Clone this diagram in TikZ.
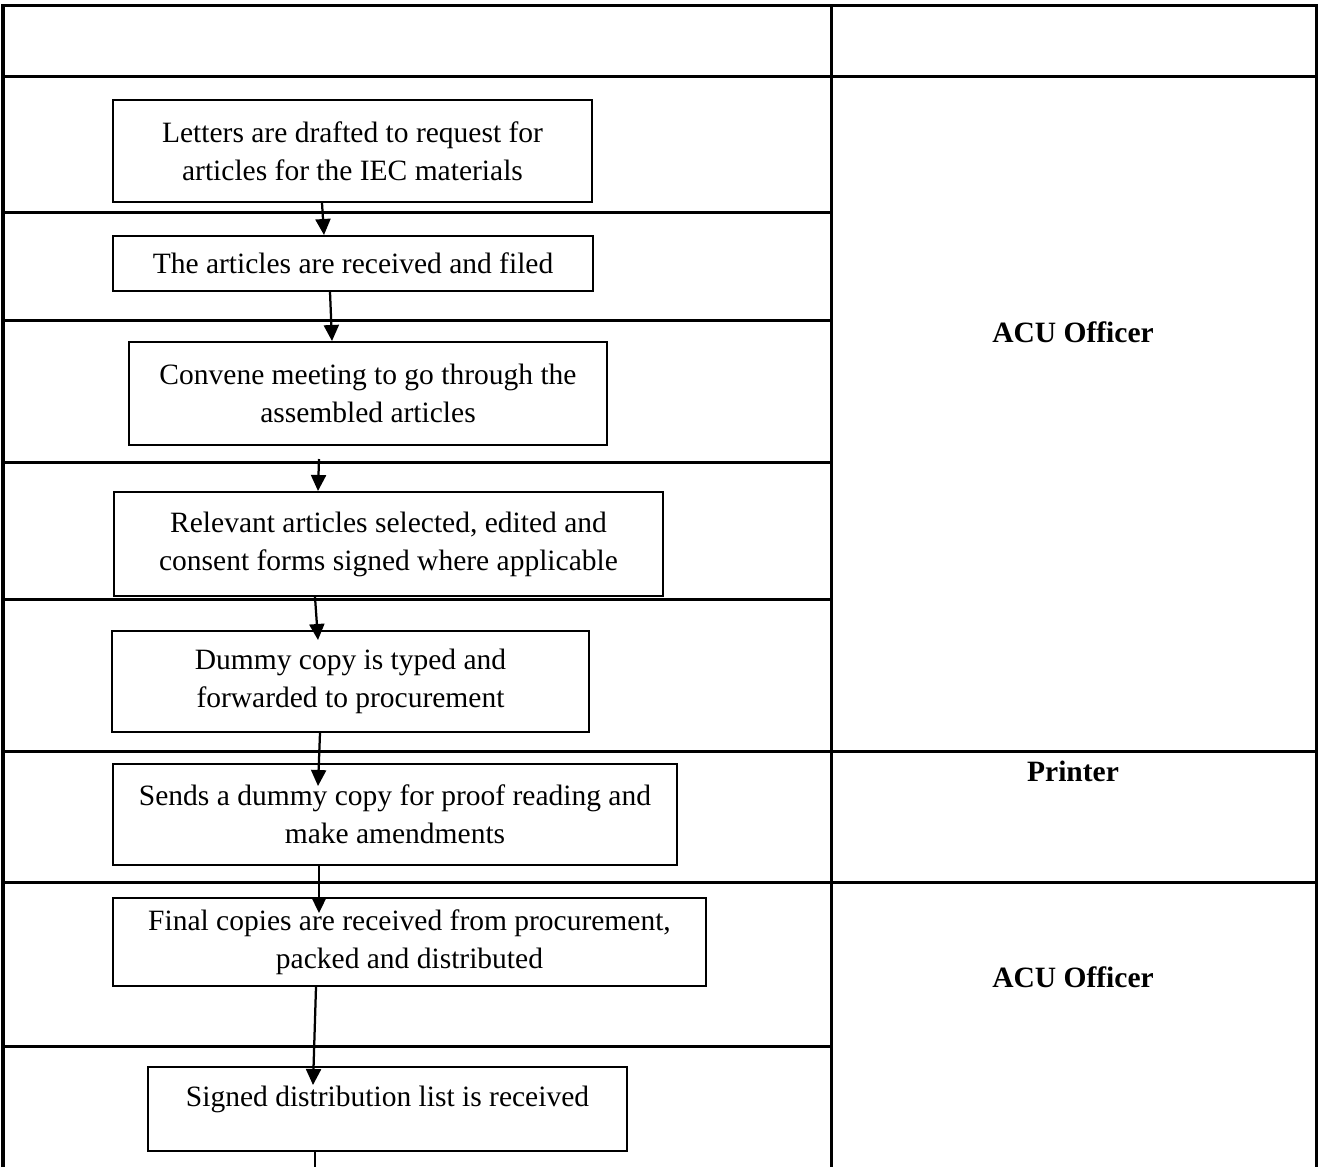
\documentclass[tikz,border=0pt]{standalone}
\usepackage{fontspec}
\setmainfont{Liberation Serif}
\usetikzlibrary{arrows.meta}
\newcommand\stepfont{\fontsize{11.8pt}{15.2pt}\selectfont}
\begin{document}
\begin{tikzpicture}[x=0.4pt, y=-0.4pt,
  rule/.style={line width=1.2pt},
  stepbox/.style={draw, line width=0.8pt, align=center, inner sep=0pt, font=\stepfont},
  sz/.style 2 args={minimum width=#1*0.4pt, minimum height=#2*0.4pt},
  flow/.style={line width=0.9pt, -{Triangle[length=6.4pt, width=6pt]}},
  role/.style={font=\stepfont\bfseries}]
\useasboundingbox (0,0) rectangle (1319,1167);
\fill[white] (0,0) rectangle (1319,1167);

% table frame and lane rules
\draw[rule] (3,1167) -- (3,5) -- (1316,5) -- (1316,1167);
\draw[rule] (831,5) -- (831,1167);
\draw[rule] (3,76) -- (1316,76);
\draw[rule] (3,212) -- (831,212);
\draw[rule] (3,320) -- (831,320);
\draw[rule] (3,462) -- (831,462);
\draw[rule] (3,599) -- (831,599);
\draw[rule] (3,751) -- (1316,751);
\draw[rule] (3,882) -- (1316,882);
\draw[rule] (3,1046) -- (831,1046);

% role labels
\node[role] (r1) at (1073,332) {ACU Officer};
\node[role] (r2) at (1073,771) {Printer};
\node[role] (r3) at (1073,977) {ACU Officer};

% process steps
\node[stepbox, sz={479}{102}] (b1) at (352.5,151) {Letters are drafted to request for\\articles for the IEC materials};
\node[stepbox, sz={480}{55}] (b2) at (353,263.5) {The articles are received and filed};
\node[stepbox, sz={478}{103}] (b3) at (368,393.5) {Convene meeting to go through the\\assembled articles};
\node[stepbox, sz={549}{104}] (b4) at (388.5,544) {Relevant articles selected, edited and\\consent forms signed where applicable};
\node[stepbox, sz={477}{101}] (b5) at (350.5,681.5) {Dummy copy is typed and\\forwarded to procurement};
\node[stepbox, sz={564}{101}] (b6) at (395,814.5) {Sends a dummy copy for proof reading and\\make amendments};
\node[stepbox, sz={593}{88}] (b7) at (409.5,942) {Final copies are received from procurement,\\packed and distributed};
\node[stepbox, sz={479}{84}, text depth=10.5pt] (b8) at (387.5,1109) {Signed distribution list is received};

% connector end points
\coordinate (s34) at (319,459);
\coordinate (e45) at (318,640);
\coordinate (e56) at (318,786);
\coordinate (e67) at (319,913);
\coordinate (e78) at (313,1085);
\coordinate (tail) at (315,1167);

% flow arrows
\draw[flow] (b1.south -| 322,0) -- (b2.north -| 324,0);
\draw[flow] (b2.south -| 330,0) -- (b3.north -| 332,0);
\draw[flow] (s34) -- (b4.north -| 318,0);
\draw[flow] (b4.south -| 315,0) -- (e45);
\draw[flow] (b5.south -| 320,0) -- (e56);
\draw[flow] (b6.south -| 319,0) -- (e67);
\draw[flow] (b7.south -| 316,0) -- (e78);
\draw[line width=0.9pt] (b8.south -| 315,0) -- (tail);
\end{tikzpicture}
\end{document}
